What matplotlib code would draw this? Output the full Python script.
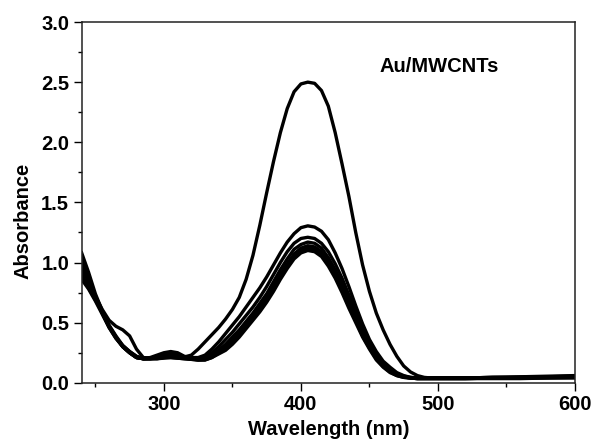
import matplotlib
matplotlib.use("Agg")
import matplotlib.pyplot as plt
from matplotlib.ticker import MultipleLocator, FormatStrFormatter

plt.rcParams['font.family'] = ['Liberation Sans', 'DejaVu Sans']
plt.rcParams['font.weight'] = 'bold'

# wavelength grid (nm) shared by all spectra
wavelength = list(range(240, 505, 5)) + [520, 540, 560, 580, 600]

# absorbance, one list per spectrum
abs_a = [1.00, 0.86, 0.72, 0.61, 0.52, 0.47, 0.44, 0.39, 0.28, 0.21,
         0.205, 0.21, 0.215, 0.22, 0.22, 0.215, 0.23, 0.28, 0.34, 0.40,
         0.46, 0.53, 0.61, 0.71, 0.86, 1.06, 1.31, 1.58, 1.84, 2.08,
         2.28, 2.42, 2.485, 2.50, 2.49, 2.43, 2.30, 2.08, 1.82, 1.55,
         1.25, 0.98, 0.76, 0.58, 0.44, 0.32, 0.22, 0.14, 0.09, 0.06,
         0.045, 0.04, 0.04,
         0.04, 0.045, 0.045, 0.05, 0.05]
abs_b = [0.95, 0.84, 0.72, 0.59, 0.47, 0.38, 0.31, 0.26, 0.22, 0.205,
         0.21, 0.23, 0.25, 0.26, 0.25, 0.22, 0.21, 0.21, 0.23, 0.28,
         0.34, 0.41, 0.48, 0.55, 0.63, 0.71, 0.79, 0.88, 0.98, 1.08,
         1.17, 1.24, 1.29, 1.305, 1.295, 1.26, 1.19, 1.08, 0.95, 0.80,
         0.64, 0.49, 0.36, 0.26, 0.18, 0.13, 0.085, 0.06, 0.045, 0.04,
         0.04, 0.04, 0.04,
         0.04, 0.045, 0.05, 0.055, 0.06]
abs_c = [1.08, 0.92, 0.74, 0.60, 0.48, 0.39, 0.31, 0.26, 0.22, 0.20,
         0.205, 0.22, 0.235, 0.245, 0.235, 0.215, 0.20, 0.20, 0.21, 0.25,
         0.30, 0.36, 0.42, 0.49, 0.56, 0.63, 0.71, 0.80, 0.90, 1.00,
         1.09, 1.16, 1.20, 1.21, 1.20, 1.16, 1.09, 0.99, 0.87, 0.73,
         0.59, 0.45, 0.33, 0.24, 0.165, 0.11, 0.075, 0.055, 0.045, 0.04,
         0.04, 0.04, 0.04,
         0.04, 0.045, 0.045, 0.05, 0.055]
abs_d = [0.90, 0.80, 0.70, 0.58, 0.47, 0.38, 0.30, 0.25, 0.21, 0.20,
         0.20, 0.21, 0.22, 0.225, 0.22, 0.21, 0.20, 0.195, 0.20, 0.23,
         0.27, 0.32, 0.38, 0.44, 0.51, 0.58, 0.66, 0.74, 0.84, 0.94,
         1.03, 1.11, 1.15, 1.17, 1.16, 1.12, 1.04, 0.94, 0.82, 0.69,
         0.55, 0.42, 0.31, 0.22, 0.15, 0.10, 0.07, 0.05, 0.04, 0.04,
         0.04, 0.04, 0.04,
         0.04, 0.04, 0.045, 0.045, 0.05]
abs_e = [1.03, 0.88, 0.72, 0.59, 0.47, 0.38, 0.30, 0.25, 0.21, 0.20,
         0.20, 0.205, 0.21, 0.215, 0.21, 0.205, 0.20, 0.19, 0.195, 0.22,
         0.26, 0.30, 0.35, 0.41, 0.48, 0.55, 0.63, 0.71, 0.80, 0.90,
         0.99, 1.07, 1.12, 1.14, 1.13, 1.09, 1.01, 0.91, 0.79, 0.66,
         0.53, 0.40, 0.30, 0.21, 0.14, 0.095, 0.065, 0.05, 0.04, 0.035,
         0.035, 0.035, 0.035,
         0.035, 0.04, 0.04, 0.045, 0.045]
abs_f = [0.88, 0.79, 0.69, 0.58, 0.46, 0.37, 0.30, 0.25, 0.21, 0.20,
         0.20, 0.20, 0.21, 0.21, 0.205, 0.20, 0.195, 0.19, 0.19, 0.21,
         0.25, 0.29, 0.34, 0.40, 0.47, 0.54, 0.61, 0.69, 0.78, 0.88,
         0.97, 1.05, 1.10, 1.12, 1.11, 1.07, 0.99, 0.89, 0.77, 0.64,
         0.52, 0.39, 0.29, 0.20, 0.135, 0.09, 0.06, 0.045, 0.04, 0.035,
         0.035, 0.035, 0.035,
         0.035, 0.04, 0.04, 0.04, 0.045]
abs_g = [0.86, 0.78, 0.68, 0.57, 0.46, 0.37, 0.30, 0.25, 0.21, 0.20,
         0.20, 0.20, 0.205, 0.21, 0.205, 0.20, 0.195, 0.19, 0.19, 0.21,
         0.24, 0.27, 0.32, 0.38, 0.45, 0.52, 0.59, 0.67, 0.76, 0.86,
         0.95, 1.03, 1.08, 1.10, 1.09, 1.05, 0.97, 0.87, 0.75, 0.62,
         0.50, 0.38, 0.28, 0.19, 0.13, 0.085, 0.06, 0.045, 0.04, 0.035,
         0.035, 0.035, 0.035,
         0.035, 0.035, 0.035, 0.04, 0.04]

spectra = [abs_a, abs_b, abs_c, abs_d, abs_e, abs_f, abs_g]

fig = plt.figure(figsize=(5.94, 4.40), dpi=100)
ax = fig.add_axes([0.1375, 0.130, 0.8305, 0.820])

for absorbance in spectra:
    ax.plot(wavelength, absorbance, color='black', lw=2.4, solid_joinstyle='round')

ax.set_xlim(240, 600)
ax.set_ylim(0, 3.0)
ax.xaxis.set_major_locator(MultipleLocator(100))
ax.xaxis.set_minor_locator(MultipleLocator(50))
ax.yaxis.set_major_locator(MultipleLocator(0.5))
ax.yaxis.set_minor_locator(MultipleLocator(0.25))
ax.yaxis.set_major_formatter(FormatStrFormatter('%.1f'))

for side in ax.spines.values():
    side.set_linewidth(1.1)
    side.set_color('#222222')
ax.tick_params(which='major', direction='out', length=5.5, width=1.0,
               labelsize=14.5, pad=3.5, top=False, right=False)
ax.tick_params(which='minor', direction='out', length=3, width=1.0,
               top=False, right=False)
for lab in ax.get_xticklabels() + ax.get_yticklabels():
    lab.set_fontweight('bold')

ax.set_xlabel('Wavelength (nm)', fontsize=14.5, fontweight='bold', labelpad=4)
ax.set_ylabel('Absorbance', fontsize=14.5, fontweight='bold')
ax.yaxis.set_label_coords(-0.1, 0.45)

ax.text(501, 2.63, 'Au/MWCNTs', fontsize=14.5, fontweight='bold',
        ha='center', va='center')

fig.savefig('out.png', dpi=100)
